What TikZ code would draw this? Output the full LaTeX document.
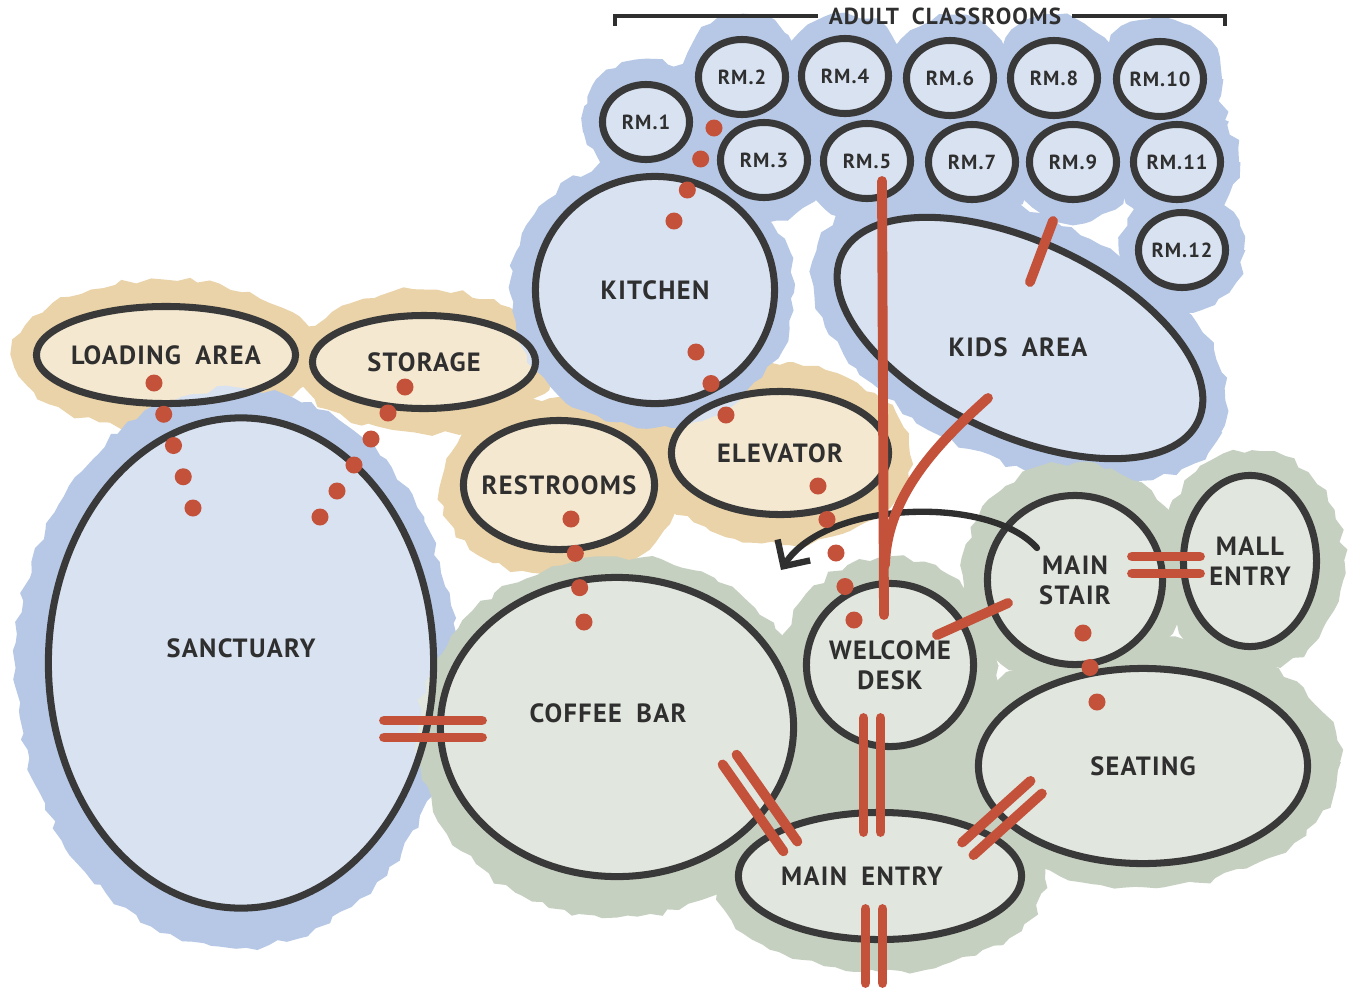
\documentclass[tikz,border=0pt]{standalone}
\usepackage{fontspec}
\setmainfont[LetterSpace=5,WordSpace=1.8]{PT Sans}
\usetikzlibrary{shapes.geometric, arrows.meta, calc, decorations.pathmorphing}

\definecolor{ink}{HTML}{2F2F2F}
\definecolor{rust}{HTML}{C4513A}
\definecolor{washblue}{HTML}{B6C8E5}
\definecolor{washtan}{HTML}{EAD3A8}
\definecolor{washgreen}{HTML}{C6D0C0}

\tikzset{
  wash/.style={fill=#1, decorate, decoration={random steps, segment length=3pt, amplitude=1pt}},
  space/.style={ellipse, draw=ink!95, line width=2pt, fill=white, fill opacity=0.48, text opacity=1,
                text=ink, inner xsep=-10pt, inner ysep=0pt, align=center,
                font=\bfseries\fontsize{7.5}{8.6}\selectfont},
  room/.style={space, minimum width=0.87cm, minimum height=0.75cm, font=\bfseries\fontsize{5.8}{7}\selectfont},
  link/.style={rust, line width=2.8pt, line cap=round},
  flow/.style={ink, line width=1.8pt, line cap=round, -{Straight Barb[length=5.5pt, width=11pt]}},
  pics/door/.style={code={
    \draw[link] (-#1,-8.5) -- (#1,-8.5);
    \draw[link] (-#1,8.5) -- (#1,8.5);
  }}
}

\begin{document}
\begin{tikzpicture}[x=0.01cm, y=-0.01cm]
  \pgfmathsetseed{11}
  \fill[white] (0,0) rectangle (1353,990);
  \useasboundingbox (0,0) rectangle (1353,990);

  % washes
  \fill[wash=washtan] (165,355) ellipse (1.52cm and 0.75cm);
  \fill[wash=washtan] (425,362) ellipse (1.3cm and 0.72cm);
  \fill[wash=washtan] (560,487) ellipse (1.2cm and 0.9cm);
  \fill[wash=washtan] (780,455) ellipse (1.3cm and 0.9cm);
  \fill[wash=washtan] (665,440) ellipse (0.8cm and 0.5cm);
  \foreach \x/\y in {646/122, 742/77, 845/76, 950/78, 1054/78, 1160/79,
                     764/160, 867/161, 972/162, 1073/162, 1177/162, 1182/250}
    \fill[wash=washblue] (\x,\y) circle (0.62cm);
  \fill[wash=washblue] (905,120) ellipse (3.2cm and 0.75cm);
  \fill[wash=washblue] (652,292) ellipse (1.42cm and 1.36cm);
  \fill[wash=washblue, rotate around={-25:(1020,338)}] (1020,338) ellipse (2.22cm and 1.22cm);
  \fill[wash=washblue] (236,668) ellipse (2.2cm and 2.8cm);
  \fill[wash=washgreen] (617,737) ellipse (2cm and 1.8cm);
  \fill[wash=washgreen] (880,770) ellipse (1.4cm and 1.1cm);
  \fill[wash=washgreen] (890,665) circle (1.08cm);
  \fill[wash=washgreen] (880,880) ellipse (1.65cm and 0.92cm);
  \fill[wash=washgreen] (1145,762) ellipse (1.95cm and 1.25cm);
  \fill[wash=washgreen] (1075,575) circle (1.12cm);
  \fill[wash=washgreen] (1252,561) ellipse (0.92cm and 1.1cm);

  % spaces
  \node[font=\bfseries\fontsize{6.6}{8}\selectfont, text=ink, inner xsep=3pt] (adult) at (945,16) {ADULT CLASSROOMS};
  \draw[ink, line width=0.9pt] (adult.west) -| (615,26);
  \draw[ink, line width=0.9pt] (adult.east) -| (1225,26);
  \foreach \n/\x/\y in {1/646/122, 2/742/77, 4/845/76, 6/950/78, 8/1054/78, 10/1160/79,
                        3/764/160, 5/867/161, 7/972/162, 9/1073/162, 11/1177/162, 12/1182/250}
    \node[room] (rm\n) at (\x,\y) {RM.\n};
  \node[space, minimum width=3.85cm, minimum height=4.9cm, text depth=0.3cm] (sanctuary) at (241,663) {SANCTUARY};
  \node[space, minimum width=2.59cm, minimum height=0.97cm] (loading) at (166,355) {LOADING AREA};
  \node[space, minimum width=2.23cm, minimum height=0.93cm] (storage) at (424,362) {STORAGE};
  \node[space, minimum width=2.39cm, minimum height=2.27cm] (kitchen) at (655,290) {KITCHEN};
  \node[space, minimum width=1.91cm, minimum height=1.29cm] (restrooms) at (559,485) {RESTROOMS};
  \node[space, minimum width=2.17cm, minimum height=1.23cm] (elevator) at (780,453) {ELEVATOR};
  \node[space, rotate=-25, minimum width=3.93cm, minimum height=1.93cm] (kids) at (1020,338) {};
  \node[text=ink, font=\bfseries\fontsize{7.5}{8.6}\selectfont] (kidslabel) at (1018,347) {KIDS AREA};
  \node[space, minimum width=3.53cm, minimum height=2.99cm, text depth=0.28cm] (coffee) at (617,727) {COFFEE BAR\kern0.18cm};
  \node[space, minimum width=1.67cm, minimum height=1.63cm] (welcome) at (890,665) {WELCOME\\DESK};
  \node[space, minimum width=1.75cm, minimum height=1.69cm] (stair) at (1075,580) {MAIN\\STAIR};
  \node[space, minimum width=1.33cm, minimum height=1.71cm] (mall) at (1250,561) {MALL\\ENTRY};
  \node[space, minimum width=3.29cm, minimum height=1.95cm] (seating) at (1143,766) {SEATING};
  \node[space, minimum width=2.83cm, minimum height=1.27cm] (mainentry) at (880,876) {MAIN ENTRY\kern0.36cm};

  % flow arrow from the stair
  \coordinate (stairgap) at (781,570);
  \draw[flow] ([shift={(-38,-32)}]stair.center) .. controls +(-47,-53) and +(45,-70) .. (stairgap);

  % dotted links
  \foreach \i in {0,...,4}
    \fill[rust] ($([shift={(-12,28)}]loading.center)!\i/4!([shift={(-48,-155)}]sanctuary.center)$) circle (0.085cm);
  \foreach \i in {0,...,5}
    \fill[rust] ($([shift={(-19,25)}]storage.center)!\i/5!([shift={(79,-146)}]sanctuary.center)$) circle (0.085cm);
  \foreach \i in {0,...,3}
    \fill[rust] ($([shift={(-50,-32)}]rm3.center)!\i/3!([shift={(19,-69)}]kitchen.center)$) circle (0.085cm);
  \foreach \i in {0,...,2}
    \fill[rust] ($([shift={(41,62)}]kitchen.center)!\i/2!([shift={(-54,-38)}]elevator.center)$) circle (0.085cm);
  \foreach \i in {0,...,4}
    \fill[rust] ($([shift={(38,33)}]elevator.center)!\i/4!([shift={(-36,-45)}]welcome.center)$) circle (0.085cm);
  \foreach \i in {0,...,3}
    \fill[rust] ($([shift={(12,34)}]restrooms.center)!\i/3!([shift={(-33,-105)}]coffee.center)$) circle (0.085cm);
  \foreach \i in {0,...,2}
    \fill[rust] ($([shift={(8,53)}]stair.center)!\i/2!([shift={(-46,-64)}]seating.center)$) circle (0.085cm);

  % open links
  \draw[link] ([shift={(15,20)}]rm5.center) -- ([shift={(-6,-50)}]welcome.center);
  \draw[link] ([shift={(-32,60)}]kids.center) .. controls +(-50,45) and +(2,-70) .. ([shift={(-5,-100)}]welcome.center);
  \draw[link] ([shift={(-20,59)}]rm9.center) -- ([shift={(10,-56)}]kids.center);
  \draw[link] ([shift={(-67,23)}]stair.center) -- ([shift={(47,-30)}]welcome.center);

  % doors
  \coordinate (sancdoor) at (433,729);
  \coordinate (coffeedoor) at (760,803);
  \coordinate (deskdoor) at (872,775);
  \coordinate (seatdoor) at (1002,818);
  \coordinate (frontdoor) at (874,946);
  \coordinate (malldoor) at (1166,565);
  \pic at (sancdoor) {door=49};
  \pic[rotate=-55] at (coffeedoor) {door=53};
  \pic[rotate=90] at (deskdoor) {door=57};
  \pic[rotate=42] at (seatdoor) {door=46};
  \pic[rotate=90] at (frontdoor) {door=37};
  \pic at (malldoor) {door=34};
\end{tikzpicture}
\end{document}
